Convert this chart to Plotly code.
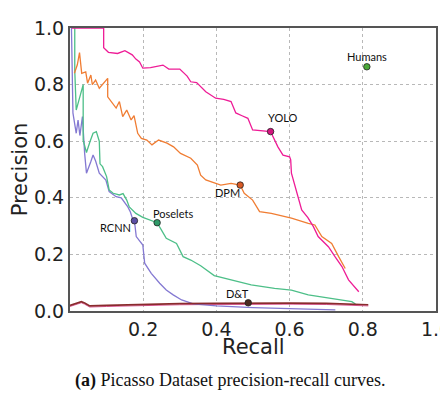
import plotly.graph_objects as go

# ---------------- data ----------------
yolo_x = [0.005, 0.092, 0.092, 0.105, 0.13, 0.15, 0.17, 0.18, 0.19, 0.199, 0.22, 0.254, 0.27, 0.30, 0.32,
          0.33, 0.346, 0.371, 0.398, 0.42, 0.44, 0.453, 0.47, 0.486, 0.499, 0.52, 0.536, 0.548, 0.568,
          0.582, 0.600, 0.603, 0.605, 0.623, 0.633, 0.65, 0.665, 0.678, 0.706, 0.724, 0.743, 0.761, 0.789]
yolo_y = [1.0, 1.0, 0.93, 0.914, 0.91, 0.92, 0.905, 0.89, 0.88, 0.858, 0.86, 0.869, 0.855, 0.855, 0.83,
          0.81, 0.807, 0.775, 0.752, 0.748, 0.74, 0.70, 0.69, 0.681, 0.64, 0.637, 0.634, 0.634, 0.58,
          0.551, 0.545, 0.534, 0.487, 0.404, 0.357, 0.33, 0.298, 0.263, 0.227, 0.192, 0.157, 0.11, 0.068]

dpm_x = [0.012, 0.02, 0.026, 0.032, 0.043, 0.048, 0.057, 0.061, 0.07, 0.08, 0.103, 0.103, 0.126, 0.135,
         0.144, 0.155, 0.167, 0.175, 0.185, 0.195, 0.21, 0.224, 0.242, 0.265, 0.283, 0.302, 0.33, 0.348,
         0.357, 0.371, 0.412, 0.44, 0.465, 0.476, 0.499, 0.518, 0.55, 0.605, 0.651, 0.669, 0.688, 0.715,
         0.734, 0.752]
dpm_y = [0.84, 0.87, 0.913, 0.84, 0.845, 0.805, 0.834, 0.80, 0.816, 0.787, 0.822, 0.757, 0.717, 0.74,
         0.687, 0.71, 0.675, 0.69, 0.628, 0.61, 0.604, 0.587, 0.604, 0.593, 0.58, 0.557, 0.54, 0.516,
         0.48, 0.463, 0.445, 0.451, 0.445, 0.416, 0.392, 0.351, 0.345, 0.328, 0.31, 0.304, 0.263, 0.239,
         0.192, 0.15]

poselets_x = [0.013, 0.013, 0.017, 0.036, 0.036, 0.045, 0.055, 0.063, 0.072, 0.08, 0.082, 0.089, 0.1,
              0.107, 0.118, 0.135, 0.145, 0.155, 0.162, 0.18, 0.199, 0.238, 0.25, 0.263, 0.291, 0.309,
              0.33, 0.357, 0.394, 0.44, 0.495, 0.559, 0.605, 0.651, 0.715, 0.77, 0.78]
poselets_y = [1.0, 0.85, 0.71, 0.80, 0.604, 0.56, 0.60, 0.628, 0.634, 0.60, 0.52, 0.51, 0.475,
              0.428, 0.416, 0.41, 0.415, 0.392, 0.368, 0.345, 0.331, 0.312, 0.286, 0.257, 0.239, 0.192,
              0.18, 0.16, 0.125, 0.11, 0.092, 0.08, 0.074, 0.057, 0.045, 0.033, 0.025]

rcnn_x = [0.004, 0.008, 0.017, 0.022, 0.027, 0.034, 0.04, 0.043, 0.045, 0.057, 0.063, 0.07, 0.08, 0.098,
          0.107, 0.126, 0.14, 0.158, 0.165, 0.172, 0.176, 0.181, 0.199, 0.204, 0.222, 0.245, 0.263, 0.282,
          0.305, 0.337, 0.4, 0.5, 0.6, 0.725]
rcnn_y = [1.0, 0.70, 0.628, 0.675, 0.62, 0.687, 0.557, 0.492, 0.487, 0.528, 0.551, 0.53, 0.487, 0.463,
          0.422, 0.404, 0.40, 0.368, 0.35, 0.322, 0.319, 0.263, 0.233, 0.169, 0.133, 0.098, 0.074, 0.057,
          0.039, 0.025, 0.018, 0.012, 0.008, 0.004]

dt_x = [0.0, 0.015, 0.022, 0.031, 0.04, 0.054, 0.1, 0.2, 0.3, 0.4, 0.5, 0.6, 0.7, 0.815]
dt_y = [0.02, 0.025, 0.03, 0.033, 0.028, 0.018, 0.02, 0.024, 0.026, 0.027, 0.028, 0.028, 0.027, 0.022]

point_names = ["YOLO", "DPM", "Poselets", "RCNN", "D&T", "Humans"]
point_x = [0.548, 0.465, 0.238, 0.176, 0.487, 0.811]
point_y = [0.634, 0.445, 0.312, 0.319, 0.029, 0.863]

x_ticks = [0.2, 0.4, 0.6, 0.8, 1.0]
y_ticks = [0.0, 0.2, 0.4, 0.6, 0.8, 1.0]

# ---------------- styles ----------------
line_colors = {"YOLO": "#ee1c96", "DPM": "#f07d33", "Poselets": "#4dbf88", "RCNN": "#8479d2", "D&T": "#8a2b2d"}
marker_colors = ["#d4157f", "#d95a25", "#2e9a68", "#5a4fa6", "#4b2a20", "#4aa83a"]
label_off = {"YOLO": (12, -14), "DPM": (-13, 7), "Poselets": (16, -9), "RCNN": (-19, 7),
             "D&T": (-11, -9), "Humans": (0, -10)}

fig = go.Figure()
series = [("RCNN", rcnn_x, rcnn_y), ("Poselets", poselets_x, poselets_y),
          ("DPM", dpm_x, dpm_y), ("YOLO", yolo_x, yolo_y)]
fig.add_trace(go.Scatter(x=dt_x, y=[v - 0.004 for v in dt_y], mode="lines",
                         line=dict(color="#e05a9a", width=1.0), hoverinfo="skip", showlegend=False))
for name, xs, ys in series:
    fig.add_trace(go.Scatter(x=xs, y=ys, mode="lines", name=name,
                             line=dict(color=line_colors[name], width=1.3), showlegend=False))
fig.add_trace(go.Scatter(x=dt_x, y=dt_y, mode="lines", name="D&T",
                         line=dict(color=line_colors["D&T"], width=1.7), showlegend=False))

fig.add_trace(go.Scatter(x=point_x, y=point_y, mode="markers",
                         marker=dict(size=6.5, color=marker_colors, line=dict(color="#222222", width=0.8)),
                         showlegend=False))

for n, px, py in zip(point_names, point_x, point_y):
    ax, ay = label_off[n]
    fig.add_annotation(x=px, y=py, text=n, showarrow=True, arrowcolor="rgba(0,0,0,0)",
                       ax=ax, ay=ay, xanchor="center", yanchor="middle",
                       font=dict(family="Lato", size=11, color="#111111"))

axis_common = dict(range=[0, 1], showline=True, mirror=True, linecolor="#555555", linewidth=2,
                   showgrid=True, gridcolor="#b8b8b8", griddash="dot", gridwidth=1, zeroline=False,
                   automargin=False, ticklabeloverflow="allow",
                   tickfont=dict(family="DejaVu Sans", size=19, color="#222222"), ticks="")
fig.update_xaxes(**axis_common, tickvals=x_ticks, ticktext=[f"{v:.1f}" for v in x_ticks])
fig.update_yaxes(**axis_common, tickvals=y_ticks, ticktext=[f"{v:.1f}" for v in y_ticks])

fig.add_annotation(text="Recall", xref="paper", yref="paper", x=0.5, y=-0.128, showarrow=False,
                   xanchor="center", yanchor="middle", font=dict(family="DejaVu Sans", size=21, color="#222222"))
fig.add_annotation(text="Precision", xref="paper", yref="paper", x=-0.137, y=0.5, showarrow=False,
                   textangle=-90, xanchor="center", yanchor="middle",
                   font=dict(family="DejaVu Sans", size=21, color="#222222"))
fig.add_annotation(text="<b>(a)</b> Picasso Dataset precision-recall curves.", xref="paper", yref="paper",
                   x=0.437, y=-0.244, showarrow=False, xanchor="center", yanchor="middle",
                   font=dict(family="Liberation Serif", size=18, color="#111111"))

# the page adds an 8px body margin, so the figure is 8px smaller and margins shifted
fig.update_layout(width=440, height=391, margin=dict(l=62, r=12, t=20, b=88, autoexpand=False),
                  plot_bgcolor="white", paper_bgcolor="white")
fig.write_html("out.html")
